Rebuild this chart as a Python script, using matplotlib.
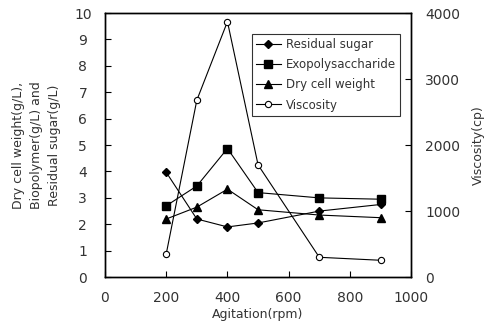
import numpy as np
import matplotlib.pyplot as plt

rpm = [200, 300, 400, 500, 700, 900]
residual_sugar = [3.97, 2.2, 1.9, 2.05, 2.5, 2.75]
exopolysaccharide = [2.7, 3.45, 4.87, 3.2, 3.0, 2.95]
dry_cell_weight = [2.2, 2.65, 3.33, 2.55, 2.35, 2.25]
viscosity = [350, 2680, 3870, 1700, 300, 255]

plt.rcParams['font.family'] = ['DejaVu Sans']
txt = '#333333'

fig = plt.figure(figsize=(4.86, 3.26), dpi=100)
ax = fig.add_axes([0.216, 0.150, 0.630, 0.810])
ax2 = ax.twinx()

l1, = ax.plot(rpm, residual_sugar, 'k-', marker='D', ms=3.6, lw=0.8, label='Residual sugar')
l2, = ax.plot(rpm, exopolysaccharide, 'k-', marker='s', ms=5.2, lw=0.8, label='Exopolysaccharide')
l3, = ax.plot(rpm, dry_cell_weight, 'k-', marker='^', ms=5.5, lw=0.8, label='Dry cell weight')
l4, = ax2.plot(rpm, viscosity, 'k-', marker='o', ms=4.5, mfc='white', mew=0.8, lw=0.8, label='Viscosity')

ax.set_xlim(0, 1000)
ax.set_ylim(0, 10)
ax2.set_ylim(0, 4000)
ax.set_xticks(np.arange(0, 1001, 200))
ax.set_yticks(np.arange(0, 11, 1))
ax2.set_yticks(np.arange(0, 4001, 1000))

for a in (ax, ax2):
    a.tick_params(direction='in', length=4, labelsize=10, colors='black', labelcolor=txt)
    for s in a.spines.values():
        s.set_linewidth(1.0)
ax.tick_params(axis='x', pad=10)
ax.tick_params(axis='y', pad=16)
for lab in ax.get_yticklabels():
    lab.set_horizontalalignment('center')
ax2.tick_params(axis='y', pad=10)

ax.set_xlabel('Agitation(rpm)', fontsize=9, color=txt, labelpad=2)
ax.set_ylabel('Dry cell weight(g/L),\nBiopolymer(g/L) and\nResidual sugar(g/L)',
              fontsize=9, color=txt, linespacing=1.5)
ax.yaxis.set_label_coords(-0.145, 0.5)
ax2.set_ylabel('Viscosity(cp)', fontsize=9, color=txt)
ax2.yaxis.set_label_coords(1.2, 0.5)

leg = ax.legend(handles=[l1, l2, l3, l4], loc='upper left', bbox_to_anchor=(0.48, 0.92),
                fontsize=8.5, frameon=True, fancybox=False, edgecolor='black',
                handlelength=2.1, handletextpad=0.45, borderpad=0.35, labelspacing=0.6,
                borderaxespad=0)
leg.get_frame().set_linewidth(0.8)
for t in leg.get_texts():
    t.set_color(txt)

plt.savefig('out.png', dpi=100)
